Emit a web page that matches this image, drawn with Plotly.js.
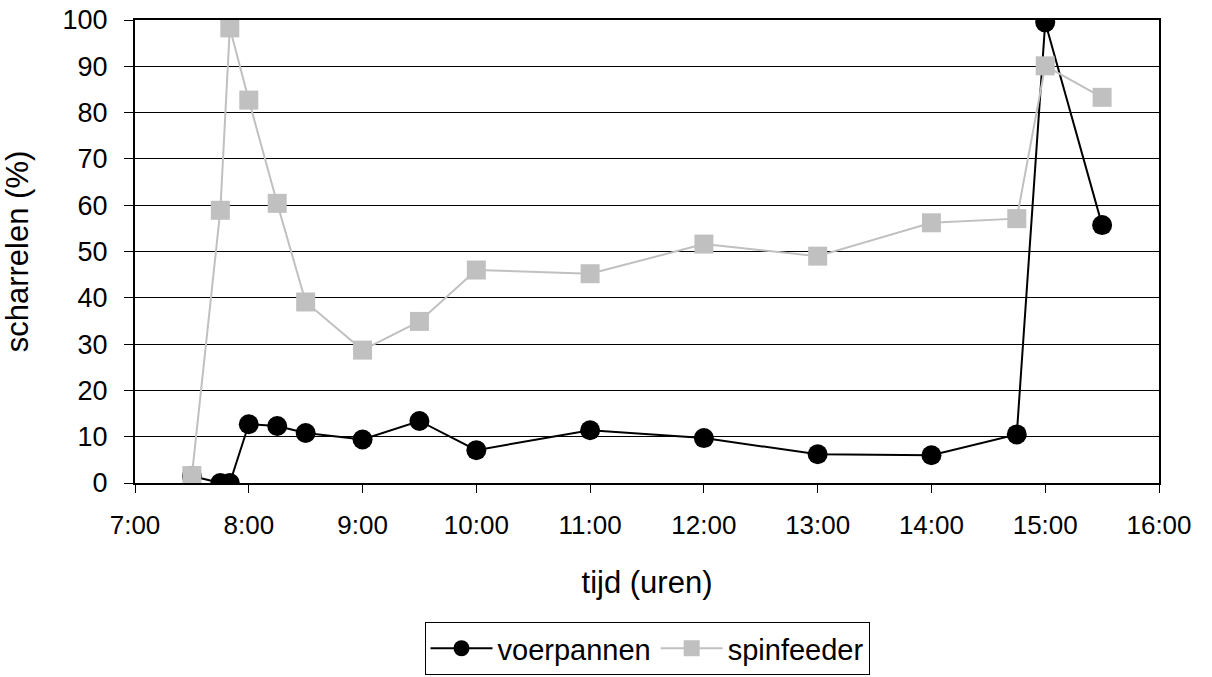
<!DOCTYPE html>
<html>
<head>
<meta charset="utf-8">
<script src="https://cdn.plot.ly/plotly-3.0.1.min.js"></script>
<style>
  html, body { margin: 0; padding: 0; background: #ffffff; }
  #chart { width: 1212px; height: 677px; }
</style>
</head>
<body>
<div id="chart"></div>
<script>
// Observation times (clock time)
const voerpannenTimes = ["7:30", "7:45", "7:50", "8:00", "8:15", "8:30", "9:00", "9:30", "10:00", "11:00", "12:00", "13:00", "14:00", "14:45", "15:00", "15:30"];
const voerpannenValues = [1.5, 0, 0, 12.7, 12.3, 10.8, 9.4, 13.4, 7.1, 11.4, 9.7, 6.2, 6.0, 10.5, 99.5, 55.7];

const spinfeederTimes = ["7:30", "7:45", "7:50", "8:00", "8:15", "8:30", "9:00", "9:30", "10:00", "11:00", "12:00", "13:00", "14:00", "14:45", "15:00", "15:30"];
const spinfeederValues = [1.6, 58.9, 98.3, 82.7, 60.4, 39.1, 28.7, 34.9, 46.0, 45.2, 51.6, 49.0, 56.2, 57.1, 90.1, 83.3];

const hourTicks = [7, 8, 9, 10, 11, 12, 13, 14, 15, 16];
const hourTickLabels = ["7:00", "8:00", "9:00", "10:00", "11:00", "12:00", "13:00", "14:00", "15:00", "16:00"];

// "h:mm" -> decimal hours
function toHours(t) {
  const [h, m] = t.split(":").map(Number);
  return h + m / 60;
}

const FONT = "Liberation Sans, Arial, sans-serif";

const traces = [
  {
    name: "voerpannen",
    x: voerpannenTimes.map(toHours),
    y: voerpannenValues,
    mode: "lines+markers",
    line: { color: "#000000", width: 2 },
    marker: { symbol: "circle", size: 20, color: "#000000" }
  },
  {
    name: "spinfeeder",
    x: spinfeederTimes.map(toHours),
    y: spinfeederValues,
    mode: "lines+markers",
    line: { color: "#c0c0c0", width: 2 },
    marker: { symbol: "square", size: 19, color: "#c0c0c0" }
  }
];

const layout = {
  width: 1212,
  height: 677,
  margin: { l: 135, r: 53, t: 20, b: 194, autoexpand: false },
  paper_bgcolor: "#ffffff",
  plot_bgcolor: "#ffffff",
  font: { family: FONT, size: 26, color: "#000000" },
  showlegend: true,
  legend: {
    orientation: "h",
    x: 0.5, xanchor: "center",
    y: -0.3, yanchor: "top",
    bordercolor: "#000000", borderwidth: 1,
    font: { family: FONT, size: 29, color: "#000000" },
    itemwidth: 62,
    traceorder: "normal"
  },
  xaxis: {
    range: [7, 16],
    tickmode: "array",
    tickvals: hourTicks,
    ticktext: hourTickLabels,
    ticks: "outside", ticklen: 8, tickwidth: 1, tickcolor: "#000000",
    ticklabelstandoff: 10,
    showline: true, linecolor: "#000000", linewidth: 2, mirror: true,
    showgrid: false, zeroline: false,
    tickfont: { family: FONT, size: 26 },
    title: { text: "tijd (uren)", font: { family: FONT, size: 31 }, standoff: 32 }
  },
  yaxis: {
    range: [0, 100],
    dtick: 10,
    ticks: "outside", ticklen: 9, tickwidth: 1, tickcolor: "#000000",
    ticklabelstandoff: 11,
    showline: true, linecolor: "#000000", linewidth: 2, mirror: true,
    showgrid: true, gridcolor: "#000000", gridwidth: 1,
    zeroline: false,
    tickfont: { family: FONT, size: 27 },
    title: { text: "scharrelen (%)", font: { family: FONT, size: 31 }, standoff: 28 }
  }
};

Plotly.newPlot("chart", traces, layout, { displayModeBar: false, staticPlot: true });
</script>
</body>
</html>
